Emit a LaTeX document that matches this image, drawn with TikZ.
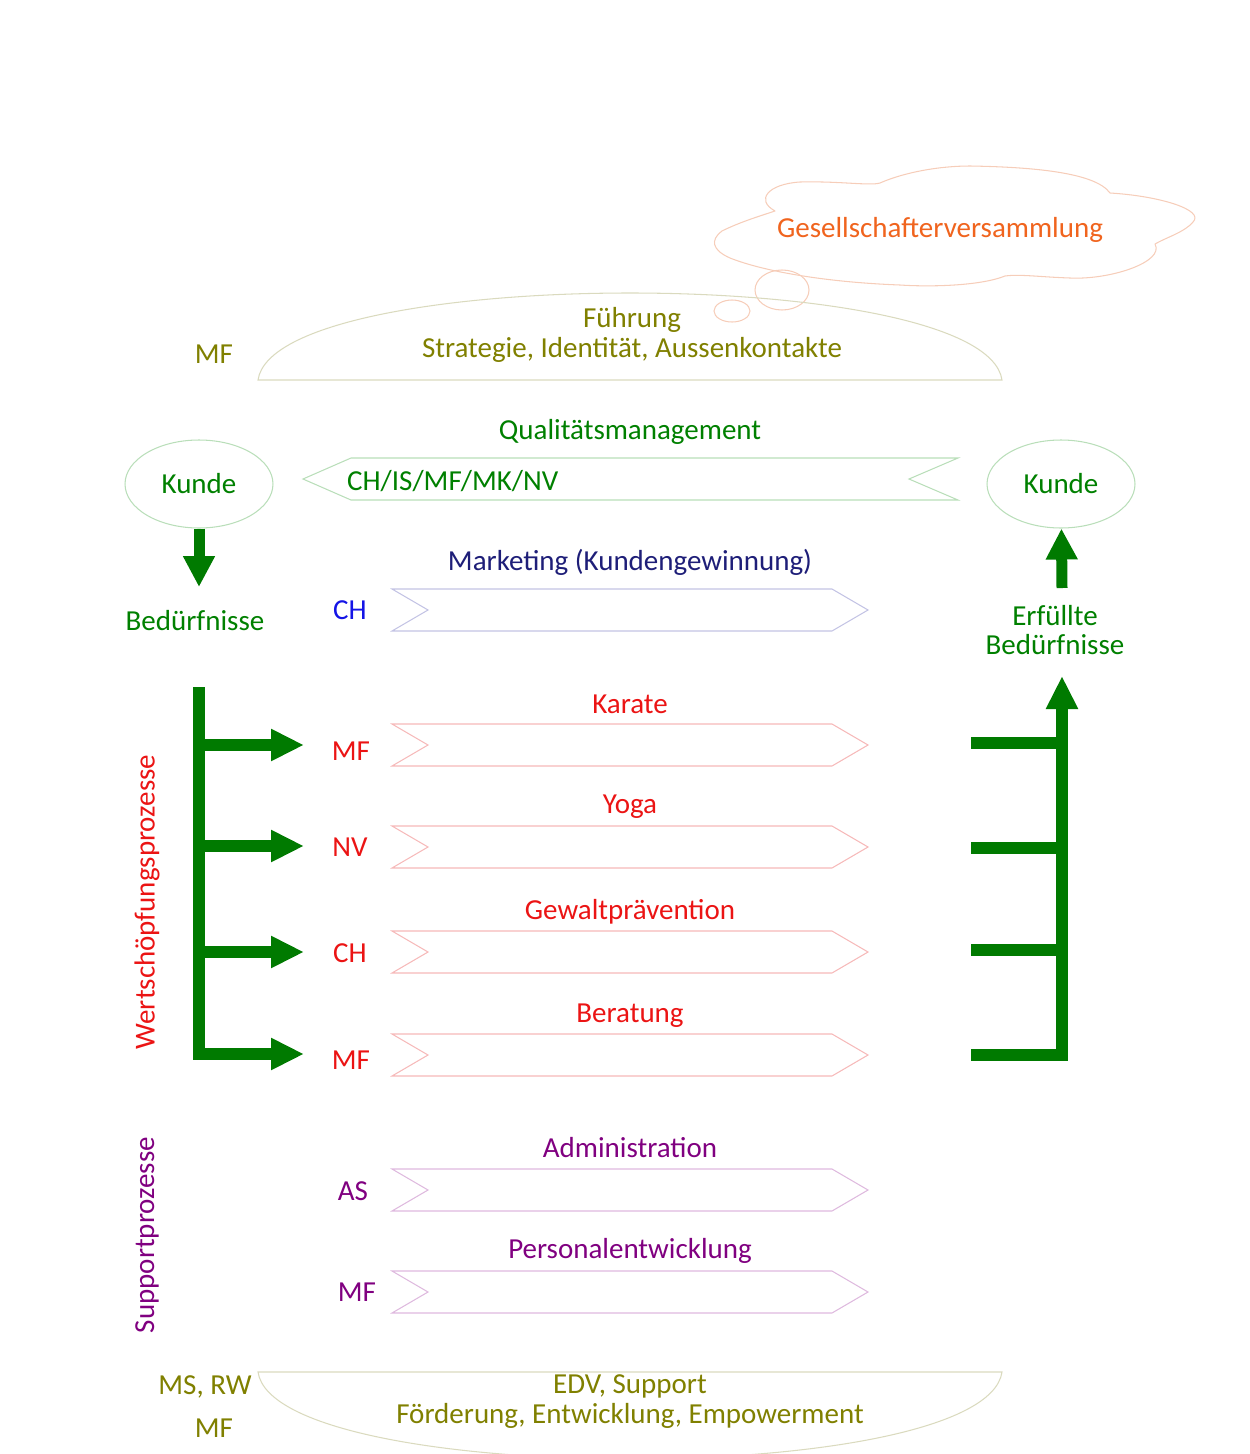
\documentclass[tikz,border=0pt]{standalone}
\usepackage{xcolor}
\usepackage{fontspec}
\setmainfont{Carlito}
\usetikzlibrary{arrows.meta,shapes.geometric}

\definecolor{olivetext}{RGB}{128,128,0}
\definecolor{oliveline}{RGB}{218,218,190}
\definecolor{orangetext}{RGB}{240,100,30}
\definecolor{orangeline}{RGB}{246,205,185}
\definecolor{greentext}{RGB}{0,128,0}
\definecolor{greenarrow}{RGB}{0,122,0}
\definecolor{greenline}{RGB}{185,222,185}
\definecolor{navytext}{RGB}{30,30,120}
\definecolor{bluetext}{RGB}{20,20,230}
\definecolor{blueline}{RGB}{195,195,228}
\definecolor{redtext}{RGB}{235,20,20}
\definecolor{redline}{RGB}{246,185,185}
\definecolor{purpletext}{RGB}{128,0,128}
\definecolor{purpleline}{RGB}{222,185,222}

\begin{document}
\begin{tikzpicture}[x=0.02cm, y=-0.02cm, font=\fontsize{16.5}{17}\selectfont,
    thin line/.style={line width=0.6pt},
    bigarrow/.style={draw=greenarrow, line width=0.22cm,
        -{Triangle[width=0.6cm,length=0.62cm]}},
    bracket/.style={draw=greenarrow, line width=0.25cm},
    bracketarrow/.style={bracket, -{Triangle[width=0.6cm,length=0.66cm]}},
    kunde/.style={ellipse, draw=greenline, thin line, text=greentext,
        minimum width=2.96cm, minimum height=1.76cm}]
    \useasboundingbox (0,0) rectangle (1250,1454);

    % Gesellschafterversammlung
    \draw[orangeline, thin line, line join=round] (722,231) .. controls (740,222) and (760,216) .. (775,211)
        .. controls (755,200) and (768,184) .. (800,182)
        .. controls (840,181) and (870,186) .. (880,183)
        .. controls (905,172) and (940,166) .. (970,166)
        .. controls (1030,167) and (1095,172) .. (1110,193)
        .. controls (1160,196) and (1205,210) .. (1193,222)
        .. controls (1185,232) and (1165,238) .. (1155,244)
        .. controls (1165,262) and (1110,280) .. (1070,278)
        .. controls (1040,277) and (1020,274) .. (1005,276)
        .. controls (980,286) and (930,287) .. (900,285)
        .. controls (820,282) and (760,270) .. (730,258)
        .. controls (712,250) and (710,240) .. cycle;
    \node[text=orangetext] (gv) at (940,230) {Gesellschafterversammlung};
    \draw[orangeline, thin line] (782,290) ellipse [x radius=0.54cm, y radius=0.4cm];
    \draw[orangeline, thin line] (732,311) ellipse [x radius=0.36cm, y radius=0.22cm];

    % Fuehrung
    \draw[oliveline, thin line] (258,380) .. controls (275,264) and (985,264) .. (1002,380) -- cycle;
    \node[text=olivetext, align=center] (fuehrung) at (632,335)
        {Führung\\Strategie, Identität, Aussenkontakte};
    \node[text=olivetext] (mftop) at (214,354) {MF};

    % Qualitaetsmanagement
    \node[text=greentext] (qm) at (630,432) {Qualitätsmanagement};
    \draw[greenline, thin line] (303,479) -- (351,458) -- (958,458) -- (909,479)
        -- (958,500) -- (351,500) -- cycle;
    \node[text=greentext, anchor=west] (qmwho) at (341,481) {CH/IS/MF/MK/NV};

    % Kunden
    \node[kunde] (kundeL) at (199,484) {Kunde};
    \node[kunde] (kundeR) at (1061,484) {Kunde};
    \node[text=greentext] (bed) at (195,621) {Bedürfnisse};
    \node[text=greentext, align=center] (erf) at (1055,630) {Erfüllte\\Bedürfnisse};
    \coordinate (bedtip) at (199,587);
    \coordinate (erftail) at (1062,588);
    \draw[bigarrow] (kundeL) -- (bedtip);
    \draw[bigarrow] (erftail) -- (kundeR);

    % Marketing
    \node[text=navytext] (mkt) at (630,562) {Marketing (Kundengewinnung)};
    \draw[blueline, thin line] (392,589) -- (832,589) -- (868,610) -- (832,631)
        -- (392,631) -- (428,610) -- cycle;
    \node[text=bluetext] (mktwho) at (350,610) {CH};

    % Wertschoepfungsprozesse
    \node[text=redtext, rotate=90] (wsp) at (147,902) {Wertschöpfungsprozesse};

    \node[text=redtext] (karate) at (630,704) {Karate};
    \draw[redline, thin line] (392,724) -- (832,724) -- (868,745) -- (832,766)
        -- (392,766) -- (428,745) -- cycle;
    \node[text=redtext] (karatewho) at (351,751) {MF};

    \node[text=redtext] (yoga) at (630,807) {Yoga};
    \draw[redline, thin line] (392,826) -- (832,826) -- (868,847) -- (832,868)
        -- (392,868) -- (428,847) -- cycle;
    \node[text=redtext] (yogawho) at (350,847) {NV};

    \node[text=redtext] (gewalt) at (630,912) {Gewaltprävention};
    \draw[redline, thin line] (392,931) -- (832,931) -- (868,952) -- (832,973)
        -- (392,973) -- (428,952) -- cycle;
    \node[text=redtext] (gewaltwho) at (350,953) {CH};

    \node[text=redtext] (beratung) at (630,1016) {Beratung};
    \draw[redline, thin line] (392,1034) -- (832,1034) -- (868,1055) -- (832,1076)
        -- (392,1076) -- (428,1055) -- cycle;
    \node[text=redtext] (beratungwho) at (351,1060) {MF};

    % Verteilung links
    \coordinate (in1) at (304,745);
    \coordinate (in2) at (304,846);
    \coordinate (in3) at (304,952);
    \coordinate (in4) at (304,1054);
    \draw[bracketarrow] (199,687) |- (in4);
    \draw[bracketarrow] (199,745) -- (in1);
    \draw[bracketarrow] (199,846) -- (in2);
    \draw[bracketarrow] (199,952) -- (in3);

    % Sammlung rechts
    \coordinate (outtip) at (1062,676);
    \draw[bracketarrow] (971,1055) -| (outtip);
    \draw[bracket] (971,743) -- (1062,743);
    \draw[bracket] (971,848) -- (1062,848);
    \draw[bracket] (971,950) -- (1062,950);

    % Supportprozesse
    \node[text=purpletext, rotate=90] (sup) at (147,1235) {Supportprozesse};

    \node[text=purpletext] (admin) at (630,1148) {Administration};
    \draw[purpleline, thin line] (392,1169) -- (832,1169) -- (868,1190) -- (832,1211)
        -- (392,1211) -- (428,1190) -- cycle;
    \node[text=purpletext] (adminwho) at (353,1191) {AS};

    \node[text=purpletext] (pe) at (630,1251) {Personalentwicklung};
    \draw[purpleline, thin line] (392,1271) -- (832,1271) -- (868,1292) -- (832,1313)
        -- (392,1313) -- (428,1292) -- cycle;
    \node[text=purpletext] (pewho) at (357,1292) {MF};

    % EDV / Foerderung
    \draw[oliveline, thin line] (258,1372) .. controls (275,1488) and (985,1488) .. (1002,1372) -- cycle;
    \node[text=olivetext, align=center] (edv) at (630,1402)
        {EDV, Support\\Förderung, Entwicklung, Empowerment};
    \node[text=olivetext] (msrw) at (205,1387) {MS, RW};
    \node[text=olivetext] (mfbot) at (214,1428) {MF};
\end{tikzpicture}
\end{document}
